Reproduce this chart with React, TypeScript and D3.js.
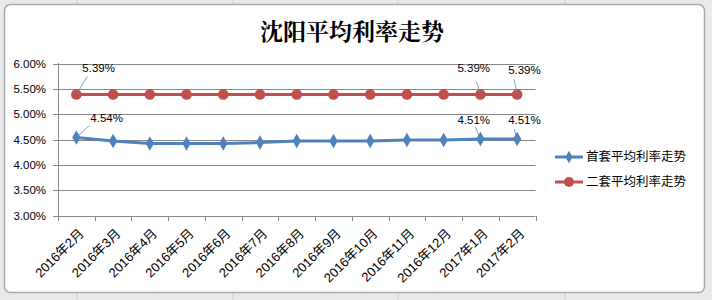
import React from "react";
import * as d3 from "d3";

const categories = ["2016年2月","2016年3月","2016年4月","2016年5月","2016年6月","2016年7月","2016年8月","2016年9月","2016年10月","2016年11月","2016年12月","2017年1月","2017年2月"];
const firstHome = [4.54,4.47,4.42,4.42,4.42,4.44,4.47,4.47,4.47,4.49,4.49,4.51,4.51];
const secondHome = [5.39,5.39,5.39,5.39,5.39,5.39,5.39,5.39,5.39,5.39,5.39,5.39,5.39];
const yTicks = [3.0,3.5,4.0,4.5,5.0,5.5,6.0];
const seriesNames = ["首套平均利率走势","二套平均利率走势"];
const title = "沈阳平均利率走势";
const firstLabels = [0, 11, 12];
const secondLabels = [0, 11, 12];

const W = 712, H = 300;
const BLUE = "#4f81bd", RED = "#c0504d";
const FONT = "'Liberation Sans', Arial, 'Noto Sans CJK SC', sans-serif";

export default function App() {
  const x = d3.scaleBand<string>().domain(categories).range([58, 535.5]);
  const y = d3.scaleLinear().domain([3, 6]).range([215.5, 63.5]);
  const cx = (i: number) => (x(categories[i]) as number) + x.bandwidth() / 2;
  const line = d3.line<number>().x((_, i) => cx(i)).y(d => y(d));
  const diamond = d3.symbol().type(d3.symbolDiamond).size(60)();
  const bounds = categories.map((c) => x(c) as number).concat([x.range()[1]]);

  return (
    <svg width={W} height={H} style={{ position: "absolute", left: 0, top: 0 }} fontFamily={FONT}>
      <rect x={0} y={0} width={W} height={H} fill="#e9e9e9" />
      {[77, 233, 398, 565].map(v => <line key={"v"+v} x1={v} x2={v} y1={0} y2={4} stroke="#d0d0d0" />)}
      {[77, 233, 398, 565].map(v => <line key={"b"+v} x1={v} x2={v} y1={293} y2={300} stroke="#d0d0d0" />)}
      <rect x={4.5} y={4.5} width={700} height={288} rx={6} ry={6} fill="#ffffff" stroke="#a9a9a9" strokeWidth={1.5} />
      <text x={352} y={40} textAnchor="middle" fontSize={23} fontWeight="bold" fontFamily="'Noto Serif CJK SC', serif, 'Noto Sans CJK SC'" fill="#000">{title}</text>

      {yTicks.map(t => (
        <g key={"g"+t}>
          <line x1={53} x2={535.5} y1={Math.round(y(t)) + 0.5} y2={Math.round(y(t)) + 0.5} stroke="#878787" strokeWidth={1} />
          <text x={46} y={y(t)} dy="0.35em" textAnchor="end" fontSize={11.5} fill="#000">{t.toFixed(2) + "%"}</text>
        </g>
      ))}
      <line x1={58.5} x2={58.5} y1={63} y2={216} stroke="#878787" />
      {bounds.map((b, i) => (
        <line key={"t"+i} x1={Math.round(b) + 0.5} x2={Math.round(b) + 0.5} y1={216} y2={221} stroke="#878787" />
      ))}
      {categories.map((c, i) => (
        <text key={c} transform={`translate(${cx(i) + 5},${231}) rotate(-45)`} dy="0.35em" textAnchor="end" fontSize={13} fill="#000">{c}</text>
      ))}

      <path d={line(secondHome) as string} fill="none" stroke={RED} strokeWidth={3} />
      {secondHome.map((v, i) => <circle key={"r"+i} cx={cx(i)} cy={y(v)} r={5.3} fill={RED} />)}
      <path d={line(firstHome) as string} fill="none" stroke={BLUE} strokeWidth={3} />
      {firstHome.map((v, i) => <path key={"d"+i} d={diamond as string} transform={`translate(${cx(i)},${y(v)})`} fill={BLUE} />)}

      {secondLabels.map(i => {
        const px = cx(i), py = y(secondHome[i]);
        const first = i === 0;
        const tx = first ? px + 6 : px - 23 + (i === 12 ? 14 : 0);
        const ty = first ? py - 26 : py - 26 + (i === 12 ? 2 : 0);
        const ex = first ? px + 11 : px - 4 + (i === 12 ? 1 : 0);
        const ey = first ? py - 18 : py - 13 + (i === 12 ? -2 : 0);
        return (
          <g key={"sl"+i}>
            <line x1={px} y1={py} x2={ex} y2={ey} stroke="#5a88c4" strokeWidth={0.8} />
            <text x={tx} y={ty} dy="0.35em" fontSize={11.5} fill="#000">{secondHome[i].toFixed(2) + "%"}</text>
          </g>
        );
      })}
      {firstLabels.map(i => {
        const px = cx(i), py = y(firstHome[i]);
        const first = i === 0;
        const tx = first ? px + 14 : px - 23 + (i === 12 ? 14 : 0);
        const ty = py - 19;
        const ex = first ? px + 13 : px - 5 + (i === 12 ? 2 : 0);
        const ey = first ? py - 12 : py - 12 + (i === 12 ? 2 : 0);
        return (
          <g key={"fl"+i}>
            <line x1={px} y1={py} x2={ex} y2={ey} stroke="#5a88c4" strokeWidth={0.8} />
            <text x={tx} y={ty} dy="0.35em" fontSize={11.5} fill="#000">{firstHome[i].toFixed(2) + "%"}</text>
          </g>
        );
      })}

      <line x1={555} x2={583} y1={157} y2={157} stroke={BLUE} strokeWidth={3} />
      <path d={d3.symbol().type(d3.symbolDiamond).size(45)() as string} transform="translate(569,157)" fill={BLUE} />
      <text x={586} y={157} dy="0.35em" fontSize={12.5} fill="#000">{seriesNames[0]}</text>
      <line x1={555} x2={583} y1={182} y2={182} stroke={RED} strokeWidth={3} />
      <circle cx={569} cy={182} r={5} fill={RED} />
      <text x={586} y={182} dy="0.35em" fontSize={12.5} fill="#000">{seriesNames[1]}</text>
    </svg>
  );
}
